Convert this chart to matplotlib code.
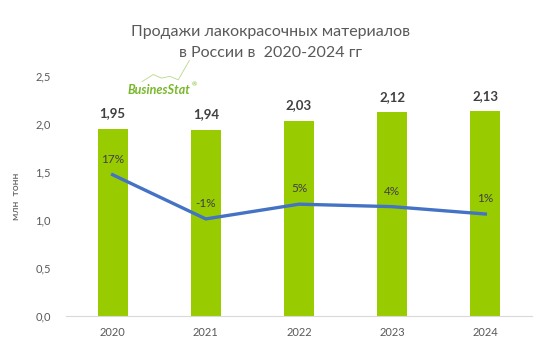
import matplotlib
matplotlib.use('Agg')
import matplotlib.pyplot as plt

plt.rcParams['font.family'] = ['Lato', 'DejaVu Sans']

years = ['2020', '2021', '2022', '2023', '2024']
sales = [1.95, 1.94, 2.03, 2.12, 2.13]          # млн тонн
growth = [17, -1, 5, 4, 1]                      # % к предыдущему году
sales_labels = ['1,95', '1,94', '2,03', '2,12', '2,13']
growth_labels = ['17%', '-1%', '5%', '4%', '1%']
yticks = [0, 0.5, 1.0, 1.5, 2.0, 2.5]
ytick_labels = ['0,0', '0,5', '1,0', '1,5', '2,0', '2,5']

grey = '#595959'
fig = plt.figure(figsize=(5.57, 3.55), dpi=100)
ax = fig.add_axes([0.1185, 0.11, 0.8365, 0.676])
x = range(len(years))
ax.bar(x, sales, width=0.32, color='#99CC00', zorder=2)
ax.set_xlim(-0.5, 4.5)
ax.set_ylim(0, 2.5)
ax.set_yticks(yticks)
ax.set_yticklabels(ytick_labels)
ax.set_xticks(list(x))
ax.set_xticklabels(years)
ax.tick_params(axis='both', length=0, colors=grey, labelsize=8)
ax.tick_params(axis='y', pad=11)
ax.tick_params(axis='x', pad=8)
for s in ['top', 'right', 'left']:
    ax.spines[s].set_visible(False)
ax.spines['bottom'].set_color('#D9D9D9')
ax.set_ylabel('млн  тонн', color=grey, fontsize=7.5, labelpad=10)

for i, v in enumerate(sales):
    ax.annotate(sales_labels[i], (i, v), xytext=(0, 7), textcoords='offset points',
                ha='center', va='bottom', fontsize=9.5, fontweight='bold', color='#404040')

# линия прироста на скрытой второй оси
ax2 = ax.twinx()
ax2.plot(list(x), growth, color='#4472C4', lw=2.4, zorder=3)
ax2.set_ylim(-40.5, 57.2)
ax2.axis('off')
for i, g in enumerate(growth):
    ax2.annotate(growth_labels[i], (i, g), xytext=(0, 7), textcoords='offset points',
                 ha='center', va='bottom', fontsize=8.5, color='#404040')

fig.text(0.485, 0.91, 'Продажи лакокрасочных материалов', ha='center', va='center',
         fontsize=11.5, color=grey)
fig.text(0.485, 0.85, 'в России в  2020-2024 гг', ha='center', va='center',
         fontsize=11.5, color=grey)

# логотип
fig.text(0.285, 0.746, 'BusinesStat', ha='center', va='center', fontsize=9,
         fontweight='bold', fontstyle='italic', color='#77B82A')
fig.text(0.349, 0.762, '®', ha='center', va='center', fontsize=4.5, color='#77B82A')
fig.add_artist(plt.Line2D([0.255, 0.275, 0.29, 0.305, 0.32, 0.34],
                          [0.77, 0.79, 0.78, 0.785, 0.775, 0.83],
                          color='#B8D98A', lw=0.6, transform=fig.transFigure))

plt.savefig('out.png', dpi=100)
